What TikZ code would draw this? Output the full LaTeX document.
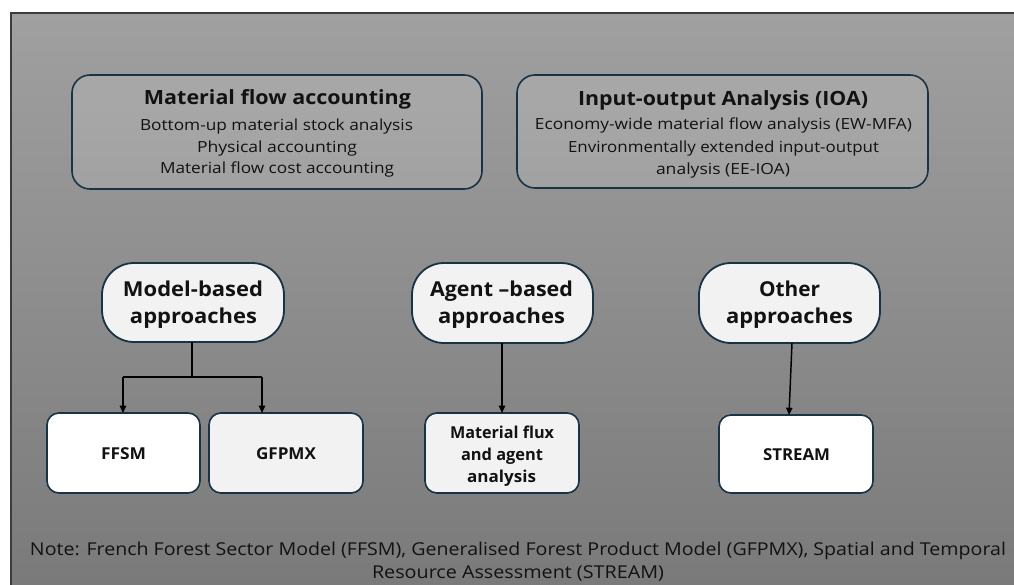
\documentclass[tikz,border=0pt]{standalone}
\usepackage{fontspec}
\usepackage{graphicx}
\setmainfont{Open Sans}
\usetikzlibrary{arrows.meta}
\definecolor{edgeblue}{RGB}{24,52,68}
\definecolor{pillfill}{RGB}{242,242,242}
\definecolor{bgtop}{RGB}{160,160,160}
\definecolor{bgbot}{RGB}{122,122,122}
\definecolor{framecol}{RGB}{60,60,60}
\definecolor{txt}{RGB}{18,18,18}
\newlength{\pxu}\setlength{\pxu}{0.75pt}
\newcommand{\fw}[2]{\resizebox{#1\pxu}{\height}{#2}}
\newcommand{\ftitle}{\fontsize{14.7}{17}\selectfont\bfseries}
\newcommand{\fbody}{\fontsize{11.5}{14}\selectfont}
\newcommand{\fpill}{\fontsize{15.4}{18}\selectfont\bfseries}
\newcommand{\fleaf}{\fontsize{12.3}{15}\selectfont\bfseries}
\newcommand{\fnote}{\fontsize{13.3}{16}\selectfont}
\tikzset{
  topbox/.style={draw=edgeblue, line width=1.2pt, rounded corners=13.5pt, fill=white, fill opacity=0.13, inner sep=0pt},
  pill/.style={draw=edgeblue, line width=1.35pt, rounded corners=24pt, fill=pillfill, inner sep=0pt},
  leaf/.style={draw=edgeblue, line width=1.2pt, rounded corners=9pt, fill=pillfill, inner sep=0pt},
  lbl/.style={anchor=base, inner sep=0pt, text=txt},
  conn/.style={line width=1.7pt, black},
  arr/.style={line width=1.1pt, black, -{Triangle[length=5.5pt,width=4.8pt]}},
}
\begin{document}
\begin{tikzpicture}[x=0.75pt,y=-0.75pt]
\useasboundingbox (0,0) rectangle (1014,585);
\shade[top color=bgtop, bottom color=bgbot] (11,13) rectangle (1014,585);
\draw[framecol, line width=0.9pt] (11,585) -- (11,13) -- (1014,13);

% top boxes
\node[topbox, minimum width=307.5pt, minimum height=85.5pt] (mfa) at (277,132) {};
\node[lbl, font=\ftitle] (mfa-t) at (277.5,104) {\fw{267}{Material flow accounting}};
\node[lbl, font=\fbody] (mfa-1) at (276.5,130) {\fw{273}{Bottom-up material stock analysis}};
\node[lbl, font=\fbody] (mfa-2) at (277,152) {\fw{160}{Physical accounting}};
\node[lbl, font=\fbody] (mfa-3) at (277,174) {\fw{234}{Material flow cost accounting}};

\node[topbox, minimum width=308.25pt, minimum height=84.75pt] (ioa) at (722.5,131.5) {};
\node[lbl, font=\ftitle] (ioa-t) at (723,105) {\fw{290}{Input-output Analysis (IOA)}};
\node[lbl, font=\fbody] (ioa-1) at (723.5,130) {\fw{377}{Economy-wide material flow analysis (EW-MFA)}};
\node[lbl, font=\fbody] (ioa-2) at (723.5,152) {\fw{311}{Environmentally extended input-output}};
\node[lbl, font=\fbody] (ioa-3) at (723,174) {\fw{134}{analysis (EE-IOA)}};

% pills
\node[pill, minimum width=136.5pt, minimum height=59.25pt] (model) at (193,302.5) {};
\node[lbl, font=\fpill] (model-1) at (193,296) {\fw{140}{Model-based}};
\node[lbl, font=\fpill] (model-2) at (193.5,323) {\fw{127}{approaches}};

\node[pill, minimum width=135.75pt, minimum height=60pt] (agent) at (502.5,303) {};
\node[lbl, font=\fpill] (agent-1) at (501.5,296) {\fw{143}{Agent –based}};
\node[lbl, font=\fpill] (agent-2) at (501.5,323) {\fw{127}{approaches}};

\node[pill, minimum width=135.75pt, minimum height=60pt] (other) at (789.5,303) {};
\node[lbl, font=\fpill] (other-1) at (789.5,296) {\fw{61}{Other}};
\node[lbl, font=\fpill] (other-2) at (789.5,323) {\fw{127}{approaches}};

% leaves
\node[leaf, fill=white, minimum width=114.75pt, minimum height=60pt] (ffsm) at (123.5,453) {};
\node[lbl, font=\fleaf] (ffsm-t) at (123.5,459) {\fw{45}{FFSM}};
\node[leaf, minimum width=115.5pt, minimum height=60pt] (gfpmx) at (286,453) {};
\node[lbl, font=\fleaf] (gfpmx-t) at (286,459) {\fw{60}{GFPMX}};
\node[leaf, minimum width=115.5pt, minimum height=60pt] (flux) at (502,453) {};
\node[lbl, font=\fleaf] (flux-1) at (502,438) {\fw{104}{Material flux}};
\node[lbl, font=\fleaf] (flux-2) at (502,460) {\fw{82}{and agent}};
\node[lbl, font=\fleaf] (flux-3) at (501.5,482) {\fw{69}{analysis}};
\node[leaf, fill=white, minimum width=115.5pt, minimum height=58.5pt] (stream) at (796,454) {};
\node[lbl, font=\fleaf] (stream-t) at (796.5,460) {\fw{67}{STREAM}};

% connectors
\coordinate (split) at (192,377);
\coordinate (splitL) at (123,377);
\coordinate (splitR) at (262,377);
\coordinate (modelout) at (192,342);
\coordinate (ffsmin) at (123,413);
\coordinate (gfpmxin) at (262,413);
\coordinate (agentout) at (502,343);
\coordinate (fluxin) at (502,413);
\coordinate (otherout) at (792,343);
\coordinate (streamin) at (789,415);
\draw[conn] (modelout) -- (split);
\draw[conn] (splitL) -- (splitR);
\draw[arr] (splitL) -- (ffsmin);
\draw[arr] (splitR) -- (gfpmxin);
\draw[arr] (agentout) -- (fluxin);
\draw[arr] (otherout) -- (streamin);

% note
\node[lbl, font=\fnote] (note-1) at (518,555) {\fw{976}{Note: French Forest Sector Model (FFSM), Generalised Forest Product Model (GFPMX), Spatial and Temporal}};
\node[lbl, font=\fnote] (note-2) at (518,578) {\fw{292}{Resource Assessment (STREAM)}};
\end{tikzpicture}
\end{document}
